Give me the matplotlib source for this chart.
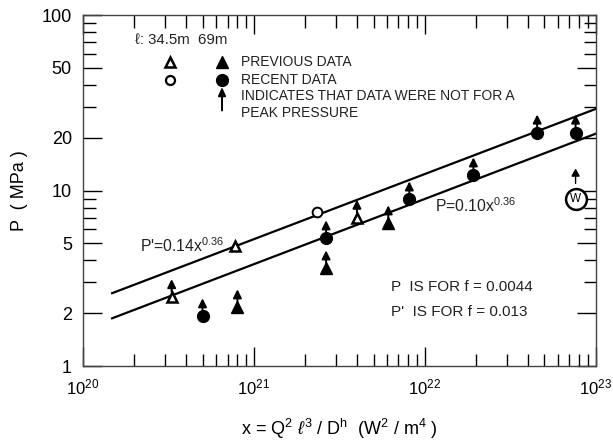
import matplotlib

matplotlib.use("Agg")
import matplotlib.pyplot as plt
from matplotlib.transforms import offset_copy

# previous data, l = 34.5 m (open triangles) / 69 m (filled triangles)
prev_345_x = [3.3e20, 7.7e20, 4.0e21]
prev_345_y = [2.47, 4.8, 7.0]
prev_345_arrow = [True, False, True]
prev_69_x = [8.0e20, 2.64e21, 6.1e21]
prev_69_y = [2.16, 3.6, 6.5]
prev_69_arrow = [True, True, True]

# recent data, l = 34.5 m (open circles) / 69 m (filled circles)
recent_345_x = [2.34e21]
recent_345_y = [7.5]
recent_345_arrow = [False]
recent_69_x = [5.0e20, 2.64e21, 8.1e21, 1.92e22, 4.53e22, 7.6e22]
recent_69_y = [1.92, 5.34, 8.9, 12.2, 21.4, 21.4]
recent_69_arrow = [True, True, True, True, True, True]

w_x = [7.6e22]
w_y = [8.9]

# fitted lines P' (f = 0.013) and P (f = 0.0044)
fit_x = [1.48e20, 1.0e23]
fit_upper = [2.6, 29.2]
fit_lower = [1.87, 21.1]

y_ticks = [1, 2, 5, 10, 20, 50, 100]

plt.rcParams.update({
    "font.family": ["Liberation Sans", "DejaVu Sans"],
    "mathtext.fontset": "custom",
    "mathtext.rm": "Liberation Sans",
    "mathtext.it": "Liberation Sans:italic",
    "mathtext.bf": "Liberation Sans:bold",
})

fig = plt.figure(figsize=(6.13, 4.43), dpi=100)
ax = fig.add_axes([0.1354, 0.1738, 0.8368, 0.7923])
ax.set_xscale("log")
ax.set_yscale("log")
ax.set_xlim(1e20, 1e23)
ax.set_ylim(1, 100)

ax.plot(fit_x, fit_upper, color="black", lw=1.6, zorder=2)
ax.plot(fit_x, fit_lower, color="black", lw=1.6, zorder=2)

ax.plot(prev_345_x, prev_345_y, "^", ms=7.5, mfc="white", mec="black", mew=1.8, ls="none", zorder=3)
ax.plot(prev_69_x, prev_69_y, "^", ms=9, color="black", ls="none", zorder=3)
ax.plot(recent_345_x, recent_345_y, "o", ms=7, mfc="white", mec="black", mew=1.4, ls="none", zorder=3)
ax.plot(recent_69_x, recent_69_y, "o", ms=8.5, color="black", ls="none", zorder=3)


def up_arrow(x, y, lo, hi, lw=1.4, head=0.5):
    ax.annotate(
        "",
        xy=(x, y), xycoords=offset_copy(ax.transData, fig=fig, x=0, y=hi, units="dots"),
        xytext=(x, y), textcoords=offset_copy(ax.transData, fig=fig, x=0, y=lo, units="dots"),
        arrowprops=dict(arrowstyle=f"-|>,head_length={head},head_width=0.25",
                        mutation_scale=10, color="black", lw=lw, shrinkA=0, shrinkB=0),
        zorder=4,
    )


for xs, ys, flags in [
    (prev_345_x, prev_345_y, prev_345_arrow),
    (prev_69_x, prev_69_y, prev_69_arrow),
    (recent_345_x, recent_345_y, recent_345_arrow),
    (recent_69_x, recent_69_y, recent_69_arrow),
]:
    for x, y, f in zip(xs, ys, flags):
        if f:
            up_arrow(x, y, 5, 18)

# the W point
ax.plot(w_x, w_y, "o", ms=15, mfc="white", mec="black", mew=1.8, ls="none", zorder=3)
ax.text(w_x[0], w_y[0], "W", ha="center", va="center", fontsize=8.5, zorder=5)
up_arrow(w_x[0], w_y[0], 16, 31, lw=1.0, head=0.45)

# equations and notes
ax.text(2.15e20, 4.87, "P'=0.14x$^{0.36}$", fontsize=11.3, color="#222222", va="center")
ax.text(1.15e22, 8.2, "P=0.10x$^{0.36}$", fontsize=11.3, color="#222222", va="center")
ax.text(6.3e21, 2.81, "P  IS FOR f = 0.0044", fontsize=11, color="#222222", va="center")
ax.text(6.3e21, 2.03, "P'  IS FOR f = 0.013", fontsize=11, color="#222222", va="center")

# legend block drawn in axes fraction
tr = ax.transAxes
ax.text(0.101, 0.929, "ℓ: 34.5m  69m", transform=tr, fontsize=10.8, va="center", color="#222222")
ax.plot([0.169], [0.866], "^", transform=tr, ms=7, mfc="white", mec="black", mew=1.8, clip_on=False)
ax.plot([0.271], [0.866], "^", transform=tr, ms=8.5, color="black", clip_on=False)
ax.plot([0.169], [0.815], "o", transform=tr, ms=6.5, mfc="white", mec="black", mew=1.6, clip_on=False)
ax.plot([0.271], [0.815], "o", transform=tr, ms=8.5, color="black", clip_on=False)
ax.annotate("", xy=(0.271, 0.795), xycoords=tr, xytext=(0.271, 0.728), textcoords=tr,
            arrowprops=dict(arrowstyle="-|>,head_length=0.5,head_width=0.22", mutation_scale=10,
                            color="black", lw=1.4, shrinkA=0, shrinkB=0))
legend_lines = ["PREVIOUS DATA", "RECENT DATA", "INDICATES THAT DATA WERE NOT FOR A", "PEAK PRESSURE"]
legend_y = [0.866, 0.816, 0.768, 0.722]
for s, yy in zip(legend_lines, legend_y):
    ax.text(0.308, yy, s, transform=tr, fontsize=10, va="center", color="#222222")

# axes styling
ax.set_yticks(y_ticks)
ax.set_yticklabels([str(t) for t in y_ticks])
ax.tick_params(which="major", direction="in", length=14, width=1.0, labelsize=12,
               top=True, right=True, pad=8)
ax.tick_params(axis="y", which="major", labelsize=13)
ax.tick_params(which="minor", direction="in", length=9, width=1.0, top=True, right=True)
ax.tick_params(axis="y", which="minor", labelleft=False)
for s in ax.spines.values():
    s.set_linewidth(1.0)
    s.set_color("#444444")

ax.set_ylabel("P  ( MPa )", fontsize=13, labelpad=10)
ax.set_xlabel("x = Q$^2$ $\\ell^3$ / D$^\\mathrm{h}$  (W$^2$ / m$^4$ )", fontsize=13, labelpad=14)

fig.savefig("out.png", dpi=100)
